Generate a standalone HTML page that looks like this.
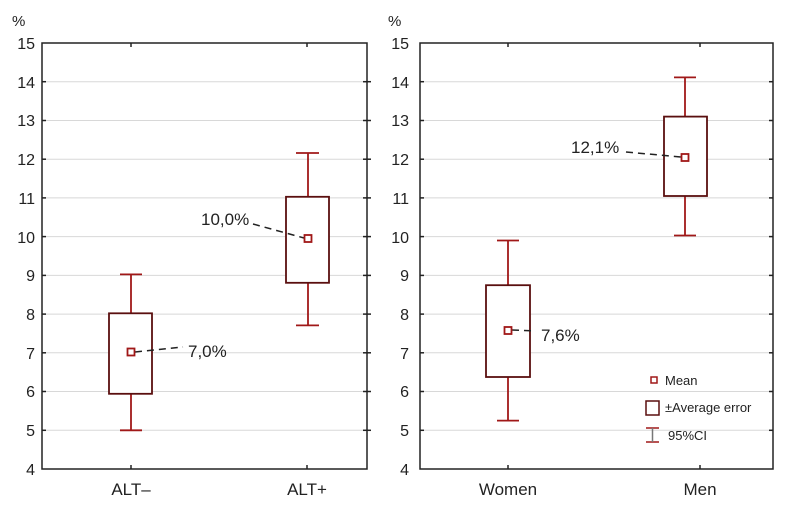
<!DOCTYPE html>
<html><head><meta charset="utf-8"><style>
body{margin:0;background:#fff}
text{font-family:"Liberation Sans",sans-serif;fill:#222}
</style></head><body>
<svg width="806" height="504" xmlns="http://www.w3.org/2000/svg">
<g stroke="#d8d8d8" stroke-width="1">
<line x1="42" x2="367" y1="81.7" y2="81.7"/><line x1="42" x2="367" y1="120.5" y2="120.5"/><line x1="42" x2="367" y1="159.2" y2="159.2"/><line x1="42" x2="367" y1="197.9" y2="197.9"/><line x1="42" x2="367" y1="236.6" y2="236.6"/><line x1="42" x2="367" y1="275.4" y2="275.4"/><line x1="42" x2="367" y1="314.1" y2="314.1"/><line x1="42" x2="367" y1="352.8" y2="352.8"/><line x1="42" x2="367" y1="391.5" y2="391.5"/><line x1="42" x2="367" y1="430.3" y2="430.3"/>
<line x1="420" x2="773" y1="81.7" y2="81.7"/><line x1="420" x2="773" y1="120.5" y2="120.5"/><line x1="420" x2="773" y1="159.2" y2="159.2"/><line x1="420" x2="773" y1="197.9" y2="197.9"/><line x1="420" x2="773" y1="236.6" y2="236.6"/><line x1="420" x2="773" y1="275.4" y2="275.4"/><line x1="420" x2="773" y1="314.1" y2="314.1"/><line x1="420" x2="773" y1="352.8" y2="352.8"/><line x1="420" x2="773" y1="391.5" y2="391.5"/><line x1="420" x2="773" y1="430.3" y2="430.3"/>
</g>
<g fill="none" stroke="#222" stroke-width="1.5">
<rect x="42" y="43" width="325" height="426"/>
<rect x="420" y="43" width="353" height="426"/>
</g>
<g stroke="#222" stroke-width="1.5">
<line x1="131" x2="131" y1="43" y2="47"/><line x1="307" x2="307" y1="43" y2="47"/>
<line x1="131" x2="131" y1="469" y2="465"/><line x1="307" x2="307" y1="469" y2="465"/>
<line x1="508" x2="508" y1="469" y2="465"/><line x1="700" x2="700" y1="469" y2="465"/>
<line x1="508" x2="508" y1="43" y2="47"/><line x1="700" x2="700" y1="43" y2="47"/>
</g>
<g stroke="#222" stroke-width="1.5">
<line x1="363" x2="371" y1="81.7" y2="81.7"/><line x1="363" x2="371" y1="120.5" y2="120.5"/><line x1="363" x2="371" y1="159.2" y2="159.2"/><line x1="363" x2="371" y1="197.9" y2="197.9"/><line x1="363" x2="371" y1="236.6" y2="236.6"/><line x1="363" x2="371" y1="275.4" y2="275.4"/><line x1="363" x2="371" y1="314.1" y2="314.1"/><line x1="363" x2="371" y1="352.8" y2="352.8"/><line x1="363" x2="371" y1="391.5" y2="391.5"/><line x1="363" x2="371" y1="430.3" y2="430.3"/>
<line x1="420" x2="424" y1="81.7" y2="81.7"/><line x1="420" x2="424" y1="120.5" y2="120.5"/><line x1="420" x2="424" y1="159.2" y2="159.2"/><line x1="420" x2="424" y1="197.9" y2="197.9"/><line x1="420" x2="424" y1="236.6" y2="236.6"/><line x1="420" x2="424" y1="275.4" y2="275.4"/><line x1="420" x2="424" y1="314.1" y2="314.1"/><line x1="420" x2="424" y1="352.8" y2="352.8"/><line x1="420" x2="424" y1="391.5" y2="391.5"/><line x1="420" x2="424" y1="430.3" y2="430.3"/>
<line x1="769" x2="773" y1="81.7" y2="81.7"/><line x1="769" x2="773" y1="120.5" y2="120.5"/><line x1="769" x2="773" y1="159.2" y2="159.2"/><line x1="769" x2="773" y1="197.9" y2="197.9"/><line x1="769" x2="773" y1="236.6" y2="236.6"/><line x1="769" x2="773" y1="275.4" y2="275.4"/><line x1="769" x2="773" y1="314.1" y2="314.1"/><line x1="769" x2="773" y1="352.8" y2="352.8"/><line x1="769" x2="773" y1="391.5" y2="391.5"/><line x1="769" x2="773" y1="430.3" y2="430.3"/>
<line x1="42" x2="46" y1="81.7" y2="81.7"/><line x1="42" x2="46" y1="120.5" y2="120.5"/><line x1="42" x2="46" y1="159.2" y2="159.2"/><line x1="42" x2="46" y1="197.9" y2="197.9"/><line x1="42" x2="46" y1="236.6" y2="236.6"/><line x1="42" x2="46" y1="275.4" y2="275.4"/><line x1="42" x2="46" y1="314.1" y2="314.1"/><line x1="42" x2="46" y1="352.8" y2="352.8"/><line x1="42" x2="46" y1="391.5" y2="391.5"/><line x1="42" x2="46" y1="430.3" y2="430.3"/>
</g>
<g font-size="16" text-anchor="end">
<text x="35" y="49">15</text><text x="35" y="88">14</text><text x="35" y="126">13</text><text x="35" y="165">12</text><text x="35" y="204">11</text><text x="35" y="243">10</text><text x="35" y="281">9</text><text x="35" y="320">8</text><text x="35" y="359">7</text><text x="35" y="397">6</text><text x="35" y="436">5</text><text x="35" y="475">4</text>
<text x="409" y="49">15</text><text x="409" y="88">14</text><text x="409" y="126">13</text><text x="409" y="165">12</text><text x="409" y="204">11</text><text x="409" y="243">10</text><text x="409" y="281">9</text><text x="409" y="320">8</text><text x="409" y="359">7</text><text x="409" y="397">6</text><text x="409" y="436">5</text><text x="409" y="475">4</text>
</g>
<g font-size="15"><text x="12" y="26">%</text><text x="388" y="26">%</text></g>
<g font-size="17" text-anchor="middle">
<text x="131" y="495">ALT–</text><text x="307" y="495">ALT+</text><text x="508" y="495">Women</text><text x="700" y="495">Men</text>
</g>
<g stroke="#a01818" stroke-width="1.8" fill="none">
<line x1="131" x2="131" y1="430.3" y2="275"/><line x1="120" x2="142" y1="430.3" y2="430.3"/><line x1="120" x2="142" y1="274.4" y2="274.4"/>
<line x1="308" x2="308" y1="325.4" y2="153"/><line x1="296" x2="319" y1="325.4" y2="325.4"/><line x1="296" x2="319" y1="153" y2="153"/>
<line x1="508" x2="508" y1="420.6" y2="240.5"/><line x1="497" x2="519" y1="420.6" y2="420.6"/><line x1="497" x2="519" y1="240.5" y2="240.5"/>
<line x1="685" x2="685" y1="236" y2="78"/><line x1="674" x2="696" y1="235.5" y2="235.5"/><line x1="674" x2="696" y1="77.4" y2="77.4"/>
</g>
<g stroke="#5a0f0f" stroke-width="1.8" fill="#fff">
<rect x="109" y="313.3" width="43" height="80.5"/>
<rect x="286" y="196.8" width="43" height="86"/>
<rect x="486" y="285.2" width="44" height="91.8"/>
<rect x="664" y="116.6" width="43" height="79.4"/>
</g>
<g stroke="#222" stroke-width="1.5" stroke-dasharray="7,5" fill="none">
<line x1="135" y1="352" x2="183" y2="347"/>
<line x1="253" y1="224" x2="304" y2="238"/>
<line x1="512" y1="330" x2="536" y2="331"/>
<line x1="626" y1="152" x2="681" y2="157"/>
</g>
<g stroke="#a01818" stroke-width="1.8" fill="#fff">
<rect x="127.5" y="348.5" width="7" height="7"/>
<rect x="304.5" y="235" width="7" height="7"/>
<rect x="504.5" y="327" width="7" height="7"/>
<rect x="681.5" y="154" width="7" height="7"/>
</g>
<g font-size="17">
<text x="188" y="357">7,0%</text><text x="201" y="225">10,0%</text><text x="541" y="341">7,6%</text><text x="571" y="153">12,1%</text>
</g>
<rect x="651" y="377" width="6" height="6" fill="#fff" stroke="#a01818" stroke-width="1.5"/>
<text x="665" y="385" font-size="13">Mean</text>
<rect x="646" y="401" width="13" height="14" fill="#fff" stroke="#5a0f0f" stroke-width="1.5"/>
<text x="665" y="412" font-size="13">±Average error</text>
<g stroke="#a01818" stroke-width="1.5"><line x1="646" x2="659" y1="428" y2="428"/><line x1="646" x2="659" y1="442" y2="442"/></g>
<line x1="652.5" x2="652.5" y1="428" y2="442" stroke="#777" stroke-width="1.5"/>
<text x="668" y="440" font-size="13">95%CI</text>
</svg>
</body></html>
